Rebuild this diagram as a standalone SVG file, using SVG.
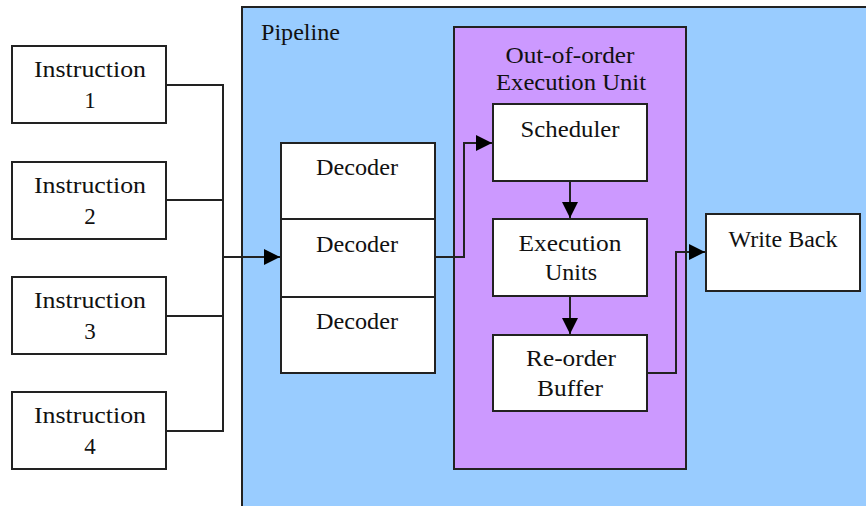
<svg xmlns="http://www.w3.org/2000/svg" width="866" height="506" viewBox="0 0 866 506">
<style>
.box{fill:#fff;stroke:#222;stroke-width:2}
text{font-family:'Liberation Serif','DejaVu Serif',serif;font-size:23px;fill:#111}
.t{text-anchor:middle}
.c{fill:none;stroke:#222;stroke-width:2}
</style>
<defs>
<marker id="arr" markerUnits="userSpaceOnUse" markerWidth="17" markerHeight="16" refX="16" refY="8" orient="auto">
<path d="M0,0 L16,8 L0,16 z" fill="#000"/>
</marker>
</defs>
<rect width="866" height="506" fill="#fff"/>
<g id="pipeline">
<rect x="242" y="7" width="640" height="520" fill="#99CCFF" stroke="#222" stroke-width="2"/>
<text x="261" y="40" textLength="79" lengthAdjust="spacingAndGlyphs">Pipeline</text>
</g>
<g id="ooo">
<rect x="454" y="27" width="232" height="442" fill="#CC99FF" stroke="#222" stroke-width="2"/>
<text class="t" x="570" y="63" textLength="129" lengthAdjust="spacingAndGlyphs">Out-of-order</text>
<text class="t" x="571" y="90" textLength="150" lengthAdjust="spacingAndGlyphs">Execution Unit</text>
</g>
<g id="instr1">
<rect class="box" x="12" y="46" width="154" height="77"/>
<text class="t" x="90" y="77" textLength="112" lengthAdjust="spacingAndGlyphs">Instruction</text>
<text class="t" x="90" y="108">1</text>
</g>
<g id="instr2">
<rect class="box" x="12" y="162" width="154" height="77"/>
<text class="t" x="90" y="193" textLength="112" lengthAdjust="spacingAndGlyphs">Instruction</text>
<text class="t" x="90" y="224">2</text>
</g>
<g id="instr3">
<rect class="box" x="12" y="277" width="154" height="77"/>
<text class="t" x="90" y="308" textLength="112" lengthAdjust="spacingAndGlyphs">Instruction</text>
<text class="t" x="90" y="339">3</text>
</g>
<g id="instr4">
<rect class="box" x="12" y="392" width="154" height="77"/>
<text class="t" x="90" y="423" textLength="112" lengthAdjust="spacingAndGlyphs">Instruction</text>
<text class="t" x="90" y="454">4</text>
</g>
<g id="decoder1">
<rect class="box" x="281" y="143" width="154" height="76"/>
<text class="t" x="357" y="175" textLength="82" lengthAdjust="spacingAndGlyphs">Decoder</text>
</g>
<g id="decoder2">
<rect class="box" x="281" y="219" width="154" height="78"/>
<text class="t" x="357" y="252" textLength="82" lengthAdjust="spacingAndGlyphs">Decoder</text>
</g>
<g id="decoder3">
<rect class="box" x="281" y="297" width="154" height="76"/>
<text class="t" x="357" y="329" textLength="82" lengthAdjust="spacingAndGlyphs">Decoder</text>
</g>
<g id="scheduler">
<rect class="box" x="493" y="104" width="154" height="77"/>
<text class="t" x="570" y="137" textLength="99" lengthAdjust="spacingAndGlyphs">Scheduler</text>
</g>
<g id="execunits">
<rect class="box" x="493" y="219" width="154" height="77"/>
<text class="t" x="570" y="251" textLength="103" lengthAdjust="spacingAndGlyphs">Execution</text>
<text class="t" x="571" y="280" textLength="52" lengthAdjust="spacingAndGlyphs">Units</text>
</g>
<g id="reorder">
<rect class="box" x="493" y="335" width="154" height="76"/>
<text class="t" x="571" y="366" textLength="90" lengthAdjust="spacingAndGlyphs">Re-order</text>
<text class="t" x="570" y="396" textLength="66" lengthAdjust="spacingAndGlyphs">Buffer</text>
</g>
<g id="writeback">
<rect class="box" x="706" y="214" width="154" height="77"/>
<text class="t" x="783" y="247" textLength="109" lengthAdjust="spacingAndGlyphs">Write Back</text>
</g>
<g id="connectors">
<polyline class="c" points="166,85 223,85 223,431 166,431"/>
<line class="c" x1="166" y1="200" x2="223" y2="200"/>
<line class="c" x1="166" y1="316" x2="223" y2="316"/>
<line class="c" x1="223" y1="257" x2="280" y2="257" marker-end="url(#arr)"/>
<polyline class="c" points="435,257 464,257 464,143 492,143" marker-end="url(#arr)"/>
<line class="c" x1="570" y1="181" x2="570" y2="218" marker-end="url(#arr)"/>
<line class="c" x1="570" y1="296" x2="570" y2="334" marker-end="url(#arr)"/>
<polyline class="c" points="647,373 676,373 676,252 705,252" marker-end="url(#arr)"/>
</g>
</svg>
